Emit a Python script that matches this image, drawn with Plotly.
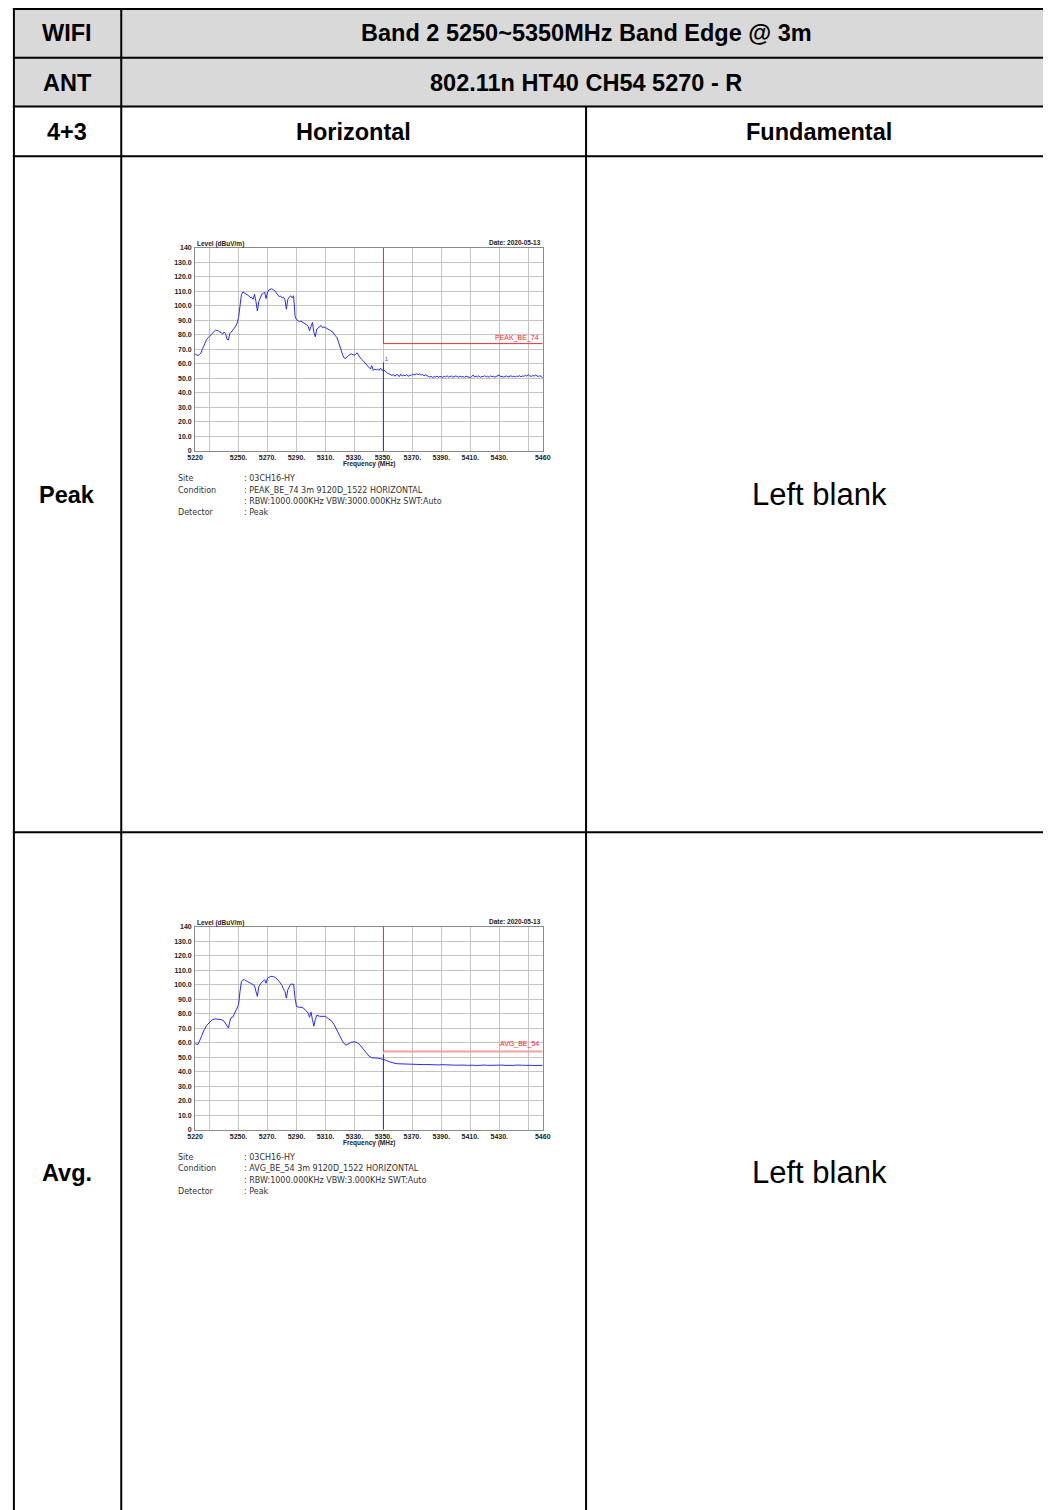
import plotly.graph_objects as go

W, H = 1051, 1510

# ---------------- data ----------------
peak_freq = list(range(5220, 5461))
peak_level = [
    66.8, 66.0, 65.7, 66.5, 67.5, 70.0, 72.5, 75.0, 77.0, 78.0,
    79.0, 80.5, 81.7, 82.5, 83.3, 83.0, 82.8, 82.0, 81.7, 80.5,
    82.0, 81.0, 77.0, 76.5, 81.0, 82.0, 83.0, 84.5, 86.0, 88.0,
    92.0, 100.0, 108.0, 109.6, 109.0, 108.5, 108.0, 107.0, 105.7, 106.0,
    104.5, 108.0, 103.0, 96.5, 103.0, 106.0, 108.0, 108.5, 109.6, 105.0,
    109.6, 111.0, 111.4, 111.8, 111.0, 110.5, 109.0, 108.0, 106.4, 106.8,
    105.5, 106.0, 104.5, 97.7, 104.5, 106.0, 107.0, 105.5, 107.0, 93.0,
    90.4, 90.0, 89.0, 89.5, 89.0, 88.5, 88.0, 87.0, 86.0, 82.8,
    86.0, 88.5, 81.7, 78.7, 84.0, 85.0, 85.8, 86.5, 85.0, 85.5,
    85.0, 84.5, 83.5, 83.5, 82.8, 82.0, 80.5, 79.5, 78.0, 75.0,
    71.4, 68.0, 65.7, 64.0, 63.8, 65.0, 66.0, 66.5, 66.8, 66.2,
    66.0, 67.0, 67.5, 65.5, 63.8, 63.0, 62.2, 61.0, 60.0, 59.0,
    57.7, 56.5, 58.8, 55.5, 56.5, 55.8, 56.5, 55.5, 57.0, 55.5,
    56.0, 55.0, 54.2, 53.5, 53.0, 52.5, 52.0, 52.8, 51.5, 52.6,
    52.4,
    51.2, 52.9, 51.6, 52.3, 51.8, 52.7, 51.4, 52.1, 51.9, 53.0,
    52.4, 52.8, 53.2, 52.6, 53.1, 52.2, 52.9, 51.7, 52.5, 52.0,
    51.3, 50.9, 51.5, 50.6, 51.2, 51.0, 51.6, 50.8, 51.4, 51.1,
    50.7, 51.5, 51.0, 51.8, 50.9, 51.3, 51.6, 50.8, 51.4, 51.7,
    51.2, 50.9, 51.5, 51.0, 51.3, 50.7, 51.6, 51.1, 50.8, 50.5,
    51.4, 52.3, 50.9, 51.6, 51.1, 51.8, 50.7, 51.4, 51.2, 51.9,
    51.0, 51.5, 50.8, 51.7, 51.2, 51.4, 50.9, 51.6, 52.1, 52.4,
    51.1, 51.5, 50.8, 51.3, 51.7, 51.0, 51.4, 51.8, 51.2, 51.5,
    51.0, 51.6, 51.3, 51.9, 51.1, 51.7, 51.4, 52.2, 51.5, 52.6,
    51.8, 51.3, 52.0, 51.6, 52.3, 51.9, 51.2, 51.8, 51.4, 50.2,
]

avg_freq = [
    5220, 5222, 5224, 5226, 5228, 5230, 5232, 5234, 5236, 5238,
    5240, 5242, 5243, 5244, 5245, 5246, 5248, 5250, 5251, 5252,
    5253, 5254, 5256, 5258, 5260, 5261, 5262, 5263, 5264, 5266,
    5268, 5269, 5270, 5272, 5274, 5276, 5278, 5280, 5281, 5282,
    5283, 5284, 5286, 5288, 5289, 5290, 5292, 5294, 5296, 5298,
    5299, 5300, 5301, 5302, 5303, 5304, 5306, 5308, 5310, 5312,
    5314, 5316, 5318, 5320, 5322, 5324, 5326, 5328, 5330, 5332,
    5334, 5336, 5338, 5340, 5342, 5344, 5346, 5348, 5350, 5352,
    5354, 5356, 5358, 5360, 5362, 5364, 5366, 5368, 5370, 5372,
    5374, 5376, 5378, 5380, 5382, 5384, 5386, 5388, 5390, 5392,
    5394, 5396, 5398, 5400, 5402, 5404, 5406, 5408, 5410, 5412,
    5414, 5416, 5418, 5420, 5422, 5424, 5426, 5428, 5430, 5432,
    5434, 5436, 5438, 5440, 5442, 5444, 5446, 5448, 5450, 5452,
    5454, 5456, 5458, 5460,
]
avg_level = [
    59.3, 58.8, 63.4, 68.4, 72.0, 74.4, 76.0, 76.4, 76.4, 76.0,
    74.8, 71.8, 70.2, 74.8, 77.6, 77.6, 81.7, 86.2, 95.4, 102.3,
    103.4, 103.4, 102.3, 101.0, 100.0, 99.5, 95.4, 92.0, 98.8, 101.8,
    103.4, 101.0, 104.5, 105.7, 105.7, 104.5, 102.3, 99.5, 97.0, 95.4,
    90.8, 96.5, 100.4, 100.4, 90.8, 85.0, 84.4, 84.4, 82.8, 80.5,
    77.6, 81.2, 76.0, 71.4, 76.0, 79.0, 78.2, 78.2, 78.2, 76.6,
    75.3, 72.5, 69.0, 64.5, 60.6, 58.3, 59.3, 60.4, 60.6, 60.0,
    58.3, 56.0, 53.0, 50.8, 49.6, 49.6, 49.4, 49.0, 48.5, 47.8,
    46.9, 46.2, 45.8, 45.5, 45.4, 45.3, 45.2, 45.3, 45.1, 45.2,
    45.0, 45.1, 44.9, 45.0, 44.8, 44.9, 44.8, 44.7, 44.9, 44.7,
    44.6, 44.8, 44.6, 44.5, 44.7, 44.5, 44.6, 44.4, 44.6, 44.5,
    44.3, 44.5, 44.4, 44.6, 44.4, 44.5, 44.3, 44.5, 44.4, 44.6,
    44.4, 44.3, 44.5, 44.4, 44.6, 44.3, 44.5, 44.4, 44.6, 44.4,
    44.3, 44.5, 44.4, 44.4,
]

peak_limit_freq = [5350, 5350, 5460]
peak_limit_level = [140, 74, 74]
avg_limit_freq = [5350, 5350]
avg_limit_level = [140, 54]
avg_limit_h_freq = [5350, 5460]
avg_limit_h_level = [54, 54]
peak_marker_freq = [5350, 5350]
peak_marker_level = [61, 0]
avg_marker_freq = [5350, 5350]
avg_marker_level = [52, 0]

y_ticks = [0, 10, 20, 30, 40, 50, 60, 70, 80, 90, 100, 110, 120, 130, 140]
y_tick_text = ["0", "10.0", "20.0", "30.0", "40.0", "50.0", "60.0", "70.0",
               "80.0", "90.0", "100.0", "110.0", "120.0", "130.0", "140"]
x_ticks = [5220, 5230, 5250, 5270, 5290, 5310, 5330, 5350, 5370, 5390,
           5410, 5430, 5450, 5460]
x_tick_text = ["5220", "", "5250.", "5270.", "5290.", "5310.", "5330.", "5350.",
               "5370.", "5390.", "5410.", "5430.", "", "5460"]

header1_left = "WIFI"
header1_right = "Band 2 5250~5350MHz Band Edge @ 3m"
header2_left = "ANT"
header2_right = "802.11n HT40 CH54 5270 - R"
header3 = ["4+3", "Horizontal", "Fundamental"]
row_labels = ["Peak", "Avg."]
blank_text = "Left blank"
info_peak = [("Site", ": 03CH16-HY"),
             ("Condition", ": PEAK_BE_74 3m 9120D_1522 HORIZONTAL"),
             ("", ": RBW:1000.000KHz VBW:3000.000KHz SWT:Auto"),
             ("Detector", ": Peak")]
info_avg = [("Site", ": 03CH16-HY"),
            ("Condition", ": AVG_BE_54 3m 9120D_1522 HORIZONTAL"),
            ("", ": RBW:1000.000KHz VBW:3.000KHz SWT:Auto"),
            ("Detector", ": Peak")]


def px(x):
    return x / W


def py(y):
    return 1 - y / H


FONT = "Liberation Sans, Arial, sans-serif"
fig = go.Figure()

# ---------- table ----------
shapes = []
shapes.append(dict(type="rect", xref="paper", yref="paper", x0=px(6), x1=px(W), y0=py(103), y1=py(5),
                   fillcolor="#d9d9d9", line=dict(width=0), layer="below"))
for yy in [5, 54, 103, 153, 832]:
    shapes.append(dict(type="line", xref="paper", yref="paper", x0=px(5), x1=px(W), y0=py(yy), y1=py(yy),
                       line=dict(color="black", width=2)))
for xx, y0 in [(6, 4), (115, 4), (587, 103)]:
    shapes.append(dict(type="line", xref="paper", yref="paper", x0=px(xx), x1=px(xx), y0=py(y0), y1=py(H + 5),
                       line=dict(color="black", width=2)))

ann = []


def txt(x, y, s, size, bold=False, xanchor="center", color="black", family=FONT, yanchor="middle"):
    ann.append(dict(x=px(x), y=py(y), xref="paper", yref="paper", text=s, showarrow=False,
                    xanchor=xanchor, yanchor=yanchor,
                    font=dict(family=family, size=size, color=color, weight="bold" if bold else "normal")))


HS = 23.5
txt(60, 29.5, header1_left, HS, True)
txt(587, 29.5, header1_right, HS, True)
txt(60, 79, header2_left, HS, True)
txt(587, 79, header2_right, HS, True)
txt(60, 129, header3[0], HS, True)
txt(351, 129, header3[1], HS, True)
txt(824, 129, header3[2], HS, True)
txt(60, 493, row_labels[0], HS, True)
txt(60, 1174, row_labels[1], HS, True)
txt(824, 493, blank_text, 31)
txt(824, 1174, blank_text, 31)

# ---------- charts ----------
charts = [
    dict(top=245, bottom=449, trace=(peak_freq, peak_level), info=info_peak),
    dict(top=927, bottom=1131, trace=(avg_freq, avg_level), info=info_avg),
]
L, R = 190, 543
for i, c in enumerate(charts):
    xa = "x" if i == 0 else "x2"
    ya = "y" if i == 0 else "y2"
    axis_common = dict(showline=True, linecolor="#8a8a8a", linewidth=1, mirror=True,
                       gridcolor="#c4c4c4", gridwidth=1, zeroline=False, ticks="",
                       tickfont=dict(family=FONT, size=7, color="#222", weight="bold"))
    xkey = "xaxis" if i == 0 else "xaxis2"
    ykey = "yaxis" if i == 0 else "yaxis2"
    fig.update_layout(**{
        xkey: dict(domain=[px(L), px(R)], range=[5220, 5460], anchor=ya,
                   tickmode="array", tickvals=x_ticks, ticktext=x_tick_text, ticklabelstandoff=0,
                   **axis_common),
        ykey: dict(domain=[py(c["bottom"]), py(c["top"])], range=[0, 140], anchor=xa,
                   tickmode="array", tickvals=y_ticks, ticktext=y_tick_text, ticklabelstandoff=1,
                   **axis_common),
    })
    if i == 0:
        fig.add_trace(go.Scatter(x=peak_limit_freq, y=peak_limit_level, mode="lines",
                                 line=dict(color="#e83030", width=1), xaxis=xa, yaxis=ya, hoverinfo="skip"))
        fig.add_trace(go.Scatter(x=peak_marker_freq, y=peak_marker_level, mode="lines",
                                 line=dict(color="#2020ff", width=1), xaxis=xa, yaxis=ya, hoverinfo="skip"))
        fig.add_trace(go.Scatter(x=c["trace"][0], y=c["trace"][1], mode="lines",
                                 line=dict(color="#2a2aff", width=1), xaxis=xa, yaxis=ya))
        ann.append(dict(x=5459, y=74, xref=xa, yref=ya, text="PEAK_BE_74", showarrow=False,
                        xanchor="right", yanchor="bottom",
                        font=dict(family=FONT, size=7, color="#ff2020")))
        ann.append(dict(x=5350, y=60, xref=xa, yref=ya, text="1", showarrow=False,
                        xanchor="left", yanchor="bottom",
                        font=dict(family=FONT, size=5, color="#2020ff")))
    else:
        fig.add_trace(go.Scatter(x=avg_limit_h_freq, y=avg_limit_h_level, mode="lines",
                                 line=dict(color="#f4a0a0", width=2), xaxis=xa, yaxis=ya, hoverinfo="skip"))
        fig.add_trace(go.Scatter(x=avg_limit_freq, y=avg_limit_level, mode="lines",
                                 line=dict(color="#e83030", width=1), xaxis=xa, yaxis=ya, hoverinfo="skip"))
        fig.add_trace(go.Scatter(x=avg_marker_freq, y=avg_marker_level, mode="lines",
                                 line=dict(color="#2020ff", width=1), xaxis=xa, yaxis=ya, hoverinfo="skip"))
        fig.add_trace(go.Scatter(x=c["trace"][0], y=c["trace"][1], mode="lines",
                                 line=dict(color="#2a2aff", width=1), xaxis=xa, yaxis=ya))
        ann.append(dict(x=5459, y=55, xref=xa, yref=ya, text="AVG_BE_54", showarrow=False,
                        xanchor="right", yanchor="bottom",
                        font=dict(family=FONT, size=7, color="#ff2020")))
    top = c["top"]
    txt(190, top - 4, "Level (dBuV/m)", 6.5, True, xanchor="left", color="#222")
    txt(543, top - 5, "Date: 2020-05-13", 6.5, True, xanchor="right", color="#222")
    txt(367, c["bottom"] + 13, "Frequency (MHz)", 6.5, True, color="#222")
    for j, (k, v) in enumerate(c["info"]):
        yy = c["bottom"] + 28 + j * 11.3
        if k:
            txt(171, yy, k, 8, xanchor="left", color="#333", family="DejaVu Sans")
        txt(238, yy, v, 8, xanchor="left", color="#333", family="DejaVu Sans")

fig.update_layout(width=W, height=H, margin=dict(l=0, r=0, t=0, b=0),
                  paper_bgcolor="white", plot_bgcolor="white", showlegend=False,
                  shapes=shapes, annotations=ann)

fig.write_html("out.html", config={"displayModeBar": False},
               post_script="document.body.style.margin='0';document.body.style.padding='0';"
                           "document.documentElement.style.overflow='hidden';")
